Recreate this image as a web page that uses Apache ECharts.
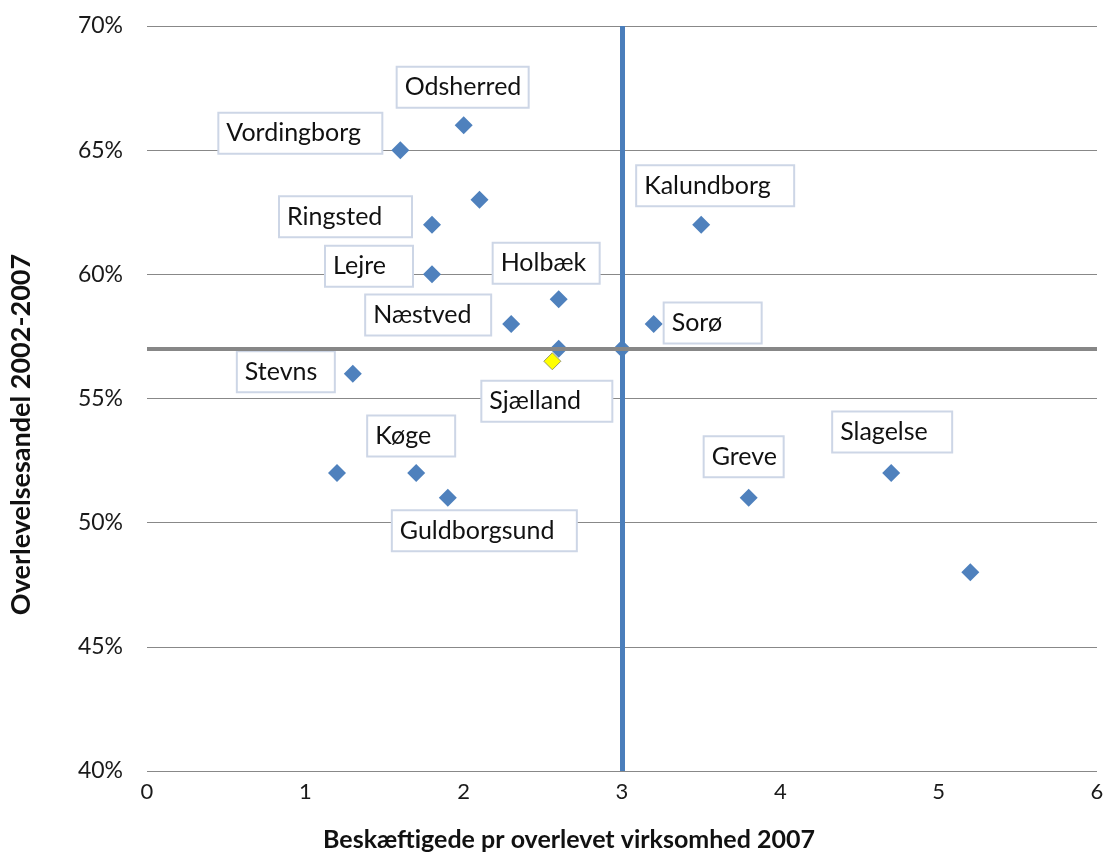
<!DOCTYPE html>
<html>
<head>
<meta charset="utf-8">
<script src="https://cdn.jsdelivr.net/npm/echarts@6/dist/echarts.min.js"></script>
<style>
  html, body { margin: 0; padding: 0; background: #ffffff; }
  #chart { width: 1105px; height: 852px; }
</style>
</head>
<body>
<div id="chart"></div>
<script>
// ---- data ----
const names  = ['Odsherred', 'Vordingborg', '', 'Ringsted', 'Kalundborg', 'Lejre', 'Holbæk', 'Næstved', 'Sorø', '', '', 'Stevns', '', 'Køge', 'Guldborgsund', 'Greve', 'Slagelse', ''];
const xValues = [2.0, 1.6, 2.1, 1.8, 3.5, 1.8, 2.6, 2.3, 3.2, 2.6, 3.0, 1.3, 1.2, 1.7, 1.9, 3.8, 4.7, 5.2];
const yValues = [66, 65, 63, 62, 62, 60, 59, 58, 58, 57, 57, 56, 52, 52, 51, 51, 52, 48];
const regionName = ['Sjælland'];
const regionX = [2.56];
const regionY = [56.5];
const refX = 3;       // vertical reference line
const refY = 57;      // horizontal reference line
const xTicks = [0, 1, 2, 3, 4, 5, 6];
const yTicks = [40, 45, 50, 55, 60, 65, 70];
const xTitle = 'Beskæftigede pr overlevet virksomhed 2007';
const yTitle = 'Overlevelsesandel 2002-2007';

// ---- label placement (style only): [left offset, vertical offset, box width] ----
const labelPlace = {
  'Odsherred':    [-66, -38, 132],
  'Vordingborg':  [-181, -17, 164],
  'Ringsted':     [-152, -8, 133],
  'Lejre':        [-106, -8, 88],
  'Holbæk':       [-65, -36, 107],
  'Næstved':      [-145, -9, 126],
  'Stevns':       [-115, -2, 98],
  'Sjælland':     [-70, 40, 131],
  'Køge':         [-48, -37, 88],
  'Guldborgsund': [-55, 33, 185],
  'Kalundborg':   [-64, -39, 158],
  'Sorø':         [11, -1, 98],
  'Greve':        [-44, -41, 80],
  'Slagelse':     [-58, -41, 120]
};

const FONT = 'Lato, "Open Sans", sans-serif';

function makeLabel(name) {
  const p = labelPlace[name];
  if (!name || !p) return { show: false };
  return {
    show: true,
    position: 'inside',
    formatter: name,
    align: 'left',
    verticalAlign: 'middle',
    width: p[2] - 11,
    overflow: 'none',
    color: '#111111',
    fontFamily: FONT,
    fontSize: 25,
    lineHeight: 30,
    backgroundColor: '#ffffff',
    borderColor: '#cdd6e6',
    borderWidth: 2,
    padding: [5, 2, 4, 7]
  };
}

function layoutFor(nameList) {
  return function (params) {
    const p = labelPlace[nameList[params.dataIndex]];
    if (!p) return {};
    return { dx: p[0], dy: p[1], hideOverlap: false };
  };
}

const mainData = xValues.map((x, i) => ({
  name: names[i],
  value: [x, yValues[i]],
  label: makeLabel(names[i])
}));
const regionData = regionX.map((x, i) => ({
  name: regionName[i],
  value: [x, regionY[i]],
  label: makeLabel(regionName[i])
}));

const chart = echarts.init(document.getElementById('chart'), null, { renderer: 'canvas' });
chart.setOption({
  animation: false,
  backgroundColor: '#ffffff',
  grid: { left: 147, right: 8, top: 26, bottom: 81, containLabel: false, outerBoundsMode: 'none' },
  xAxis: {
    type: 'value',
    min: xTicks[0],
    max: xTicks[xTicks.length - 1],
    interval: 1,
    axisLine: { show: false },
    axisTick: { show: false },
    splitLine: { show: false },
    axisLabel: { color: '#1a1a1a', fontFamily: FONT, fontSize: 22, margin: 10 },
    name: xTitle,
    nameLocation: 'middle',
    nameGap: 56,
    nameTextStyle: { color: '#111111', fontFamily: FONT, fontWeight: 'bold', fontSize: 25, padding: [0, 106, 0, 0] }
  },
  yAxis: {
    type: 'value',
    min: yTicks[0],
    max: yTicks[yTicks.length - 1],
    interval: 5,
    axisLine: { show: false },
    axisTick: { show: false },
    splitLine: { show: true, lineStyle: { color: '#888888', width: 1 } },
    axisLabel: { color: '#1a1a1a', fontFamily: FONT, fontSize: 23, margin: 24, formatter: '{value}%' },
    name: yTitle,
    nameLocation: 'middle',
    nameGap: 112,
    nameRotate: 90,
    nameTextStyle: { color: '#111111', fontFamily: FONT, fontWeight: 'bold', fontSize: 27, padding: [0, 72, 0, 0] }
  },
  series: [
    {
      type: 'scatter',
      data: [],
      z: 1,
      silent: true,
      markLine: {
        silent: true,
        symbol: 'none',
        label: { show: false },
        animation: false,
        data: [
          { xAxis: refX, lineStyle: { color: '#4a7ebb', width: 5, type: 'solid' } },
          { yAxis: refY, lineStyle: { color: '#878787', width: 4, type: 'solid' } }
        ]
      }
    },
    {
      type: 'scatter',
      name: 'Sjælland',
      z: 3,
      symbol: 'diamond',
      symbolSize: 17,
      itemStyle: { color: '#ffff00', borderColor: '#9a9a6a', borderWidth: 1, opacity: 1 },
      data: regionData,
      labelLayout: layoutFor(regionName)
    },
    {
      type: 'scatter',
      name: 'Kommuner',
      z: 4,
      symbol: 'diamond',
      symbolSize: 18,
      itemStyle: { color: '#4f81bd', opacity: 1 },
      data: mainData,
      labelLayout: layoutFor(names)
    }
  ]
});
</script>
</body>
</html>
